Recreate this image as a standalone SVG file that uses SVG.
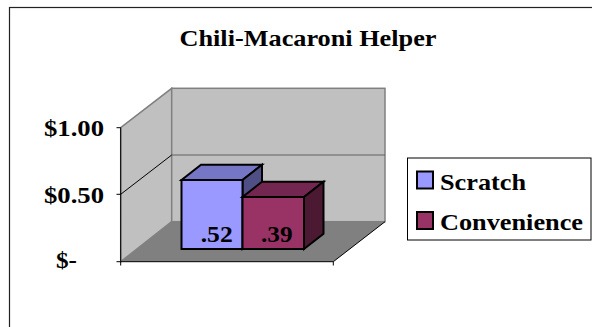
<svg xmlns="http://www.w3.org/2000/svg" width="592" height="327" viewBox="0 0 592 327">
<style>
text{font-family:'Liberation Serif','Times New Roman',serif;font-weight:700;font-size:24px;fill:#000}
.wall{fill:#C0C0C0;stroke:#808080;stroke-width:1.5}
.bar{stroke:#000;stroke-width:2;stroke-linejoin:miter}
.ax{stroke:#000;stroke-width:1;fill:none}
</style>
<rect x="0" y="0" width="592" height="327" fill="#fff"/>
<rect id="frame" x="9.5" y="7.5" width="600" height="340" fill="#fff" stroke="#222" stroke-width="1.2"/>
<g id="title"><text x="179.5" y="45.5" textLength="257" lengthAdjust="spacingAndGlyphs">Chili-Macaroni Helper</text></g>
<g id="plot">
<polygon class="wall" points="120.7,127.7 171.7,88.3 171.7,221.7 120.7,261.7"/>
<rect class="wall" x="171.7" y="88.3" width="213.3" height="133.4"/>
<polygon points="120.7,261.7 171.7,221.7 385,221.7 333.3,261.7" fill="#808080"/>
<line x1="171.7" y1="155" x2="385" y2="155" stroke="#606060" stroke-width="1"/>
<line x1="120.7" y1="194.3" x2="171.7" y2="155" stroke="#000" stroke-width="1"/>
<path class="ax" d="M120.7,127.7 V261.7 H333.3 L385,221.7 M116.5,127.7 H120.7 M116.5,194.3 H120.7 M116.5,261.7 H120.7 M120.7,261.7 V265.5 M333.3,261.7 V265.5"/>
</g>
<g id="axis-labels">
<text x="44" y="136" textLength="60" lengthAdjust="spacingAndGlyphs">$1.00</text>
<text x="44" y="202.5" textLength="60" lengthAdjust="spacingAndGlyphs">$0.50</text>
<text x="56" y="268" textLength="21" lengthAdjust="spacingAndGlyphs">$-</text>
</g>
<g id="bar-scratch">
<polygon class="bar" fill="#7676C6" points="181.5,180 201,164.7 262,164.7 242.5,180"/>
<polygon class="bar" fill="#4F4F86" points="242.5,180 262,164.7 262,233.7 242.5,249"/>
<rect class="bar" fill="#9999FF" x="181.5" y="180" width="61" height="69"/>
<text x="200.7" y="241.5" textLength="32" lengthAdjust="spacingAndGlyphs">.52</text>
</g>
<g id="bar-convenience">
<polygon class="bar" fill="#732650" points="242.5,197 262,181.7 323.5,181.7 304,197"/>
<polygon class="bar" fill="#4C1933" points="304,197 323.5,181.7 323.5,233.7 304,249"/>
<rect class="bar" fill="#993366" x="242.5" y="197" width="61.5" height="52"/>
<text x="261" y="241.5" textLength="31.5" lengthAdjust="spacingAndGlyphs">.39</text>
</g>
<g id="legend">
<rect x="407.5" y="158" width="183.5" height="82" fill="#fff" stroke="#000" stroke-width="1"/>
<rect x="417" y="171.5" width="16" height="17" fill="#9999FF" stroke="#000" stroke-width="2"/>
<text x="440" y="190" textLength="86" lengthAdjust="spacingAndGlyphs">Scratch</text>
<rect x="417" y="212" width="16" height="17" fill="#993366" stroke="#000" stroke-width="2"/>
<text x="440" y="230" textLength="143" lengthAdjust="spacingAndGlyphs">Convenience</text>
</g>
</svg>
